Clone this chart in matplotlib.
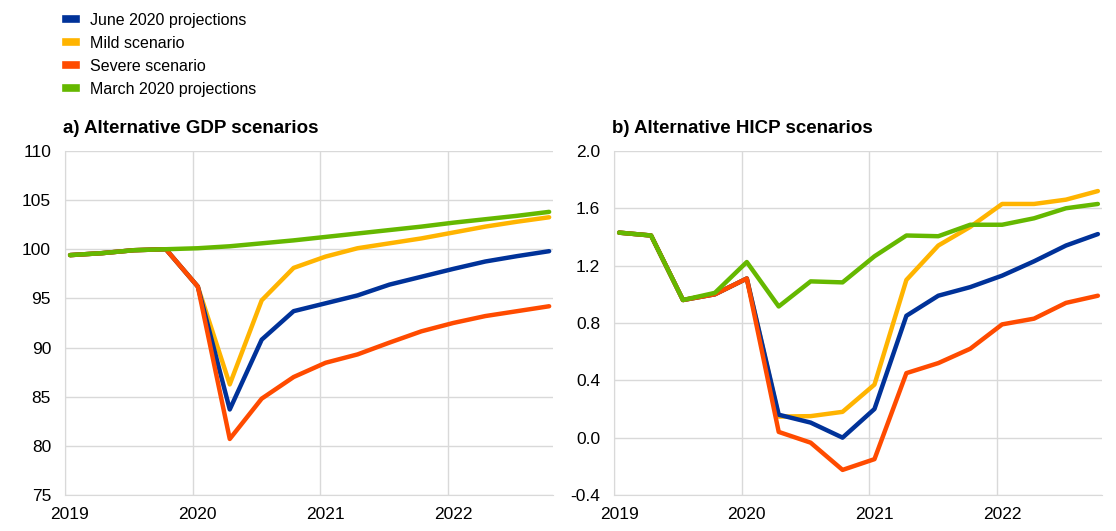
import numpy as np
import matplotlib
matplotlib.use("Agg")
import matplotlib.pyplot as plt
import matplotlib.transforms as mtransforms
from matplotlib.lines import Line2D

plt.rcParams['font.family'] = ['Liberation Sans', 'DejaVu Sans']

# quarterly observations 2019Q1 - 2022Q4
quarters = np.arange(16)
x = 2019.04 + 0.25 * quarters

gdp_june = [99.4, 99.6, 99.9, 100.0, 96.2, 83.7, 90.8, 93.7,
            94.5, 95.3, 96.4, 97.2, 98.0, 98.75, 99.3, 99.8]
gdp_mild = [99.4, 99.6, 99.9, 100.0, 96.2, 86.25, 94.8, 98.1,
            99.25, 100.1, 100.6, 101.1, 101.7, 102.3, 102.8, 103.25]
gdp_severe = [99.4, 99.6, 99.9, 100.0, 96.2, 80.7, 84.8, 87.0,
              88.45, 89.3, 90.5, 91.65, 92.5, 93.2, 93.7, 94.2]
gdp_march = [99.4, 99.6, 99.9, 100.0, 100.1, 100.3, 100.6, 100.9,
             101.25, 101.6, 101.95, 102.3, 102.7, 103.05, 103.4, 103.8]

hicp_june = [1.43, 1.41, 0.96, 1.0, 1.11, 0.16, 0.105, 0.0,
             0.20, 0.85, 0.99, 1.05, 1.13, 1.23, 1.34, 1.42]
hicp_mild = [1.43, 1.41, 0.96, 1.0, 1.11, 0.147, 0.15, 0.18,
             0.37, 1.10, 1.34, 1.47, 1.63, 1.63, 1.66, 1.72]
hicp_severe = [1.43, 1.41, 0.96, 1.0, 1.11, 0.04, -0.035, -0.225,
               -0.15, 0.45, 0.52, 0.62, 0.79, 0.83, 0.94, 0.99]
hicp_march = [1.43, 1.41, 0.96, 1.01, 1.225, 0.915, 1.09, 1.083,
              1.265, 1.41, 1.405, 1.485, 1.485, 1.53, 1.60, 1.63]

labels = ["June 2020 projections", "Mild scenario", "Severe scenario",
          "March 2020 projections"]
colors = ["#003299", "#FFB400", "#FF4B00", "#65B800"]
years = [2019, 2020, 2021, 2022]

fig = plt.figure(figsize=(11.16, 5.31), dpi=100)
ax1 = fig.add_axes([0.0582, 0.0678, 0.4373, 0.648])
ax2 = fig.add_axes([0.5502, 0.0678, 0.437, 0.648])


def style(ax, title, yticks, ylabels):
    ax.set_xlim(2019, 2022.82)
    ax.set_xticks(years)
    ax.set_xticklabels([str(y) for y in years])
    ax.set_ylim(yticks[0], yticks[-1])
    ax.set_yticks(yticks)
    ax.set_yticklabels(ylabels)
    ax.grid(True, color="#d9d9d9", linewidth=1)
    ax.set_axisbelow(True)
    for s in ["top", "right"]:
        ax.spines[s].set_visible(False)
    for s in ["left", "bottom"]:
        ax.spines[s].set_color("#d9d9d9")
    ax.tick_params(length=0, labelsize=12.5, colors="#000000", pad=10)
    ax.tick_params(axis="x", pad=9)
    # year labels sit a little to the right of the gridline
    shift = mtransforms.ScaledTranslation(5 / 100, 0, fig.dpi_scale_trans)
    for lab in ax.get_xticklabels():
        lab.set_transform(lab.get_transform() + shift)
    ax.set_title(title, loc="left", fontsize=13.5, fontweight="bold", pad=13, x=-0.004)


# draw in order so march on top like the reference
series_gdp = [gdp_june, gdp_mild, gdp_severe, gdp_march]
series_hicp = [hicp_june, hicp_mild, hicp_severe, hicp_march]
order = [1, 0, 2, 3]
for i in order:
    ax1.plot(x, series_gdp[i], color=colors[i], lw=3.2, solid_capstyle="round")
    ax2.plot(x, series_hicp[i], color=colors[i], lw=3.2, solid_capstyle="round")

style(ax1, "a) Alternative GDP scenarios", np.arange(75, 111, 5),
      [str(v) for v in range(75, 111, 5)])
hv = np.round(np.arange(-0.4, 2.01, 0.4), 1)
style(ax2, "b) Alternative HICP scenarios", hv, [f"{v:.1f}" for v in hv])

handles = [Line2D([], [], color=c, lw=5.5) for c in colors]
fig.legend(handles, labels, loc="upper left", bbox_to_anchor=(0.049, 0.997),
           frameon=False, fontsize=11.5, handlelength=0.65, handletextpad=0.85,
           labelspacing=0.5, borderaxespad=0.3)

fig.savefig("out.png", dpi=100)
